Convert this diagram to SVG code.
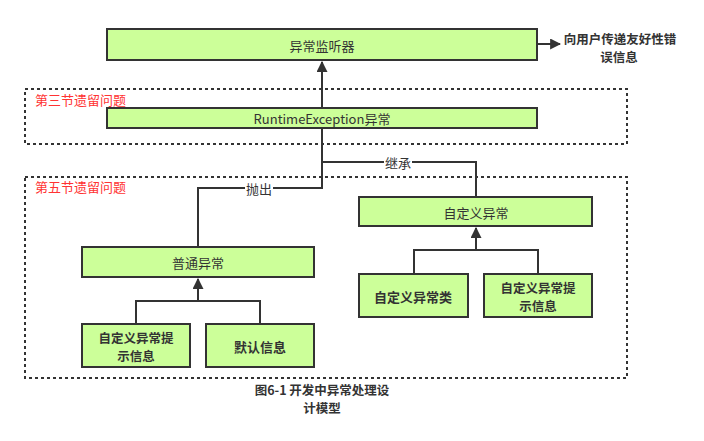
<svg xmlns="http://www.w3.org/2000/svg" width="704" height="441" viewBox="0 0 704 441">
<style>
text{font-family:"Noto Sans CJK SC","Microsoft YaHei",sans-serif;font-size:13px;fill:#333;}
.box{fill:#CCFF99;stroke:#333;stroke-width:2;}
.c{text-anchor:middle;dominant-baseline:central;}
.b{font-weight:bold;}
.m{font-size:12.5px;}
.red{fill:#FF3333;}
.grp{fill:none;stroke:#333;stroke-width:2;stroke-dasharray:3 3;}
.ln{fill:none;stroke:#333;stroke-width:2;}
.lbl{fill:#fff;}
</style>
<defs>
<marker id="ah" viewBox="0 0 10 10" refX="9" refY="5" markerWidth="5.5" markerHeight="5.5" orient="auto" markerUnits="strokeWidth">
<path d="M0,0 L10,5 L0,10 Z" fill="#333"/>
</marker>
</defs>
<g id="groups">
<rect class="grp" x="25" y="89" width="602" height="55"/>
<text class="red" x="35" y="99" dominant-baseline="central">第三节遗留问题</text>
<rect class="grp" x="25" y="177" width="602" height="201"/>
<text class="red" x="35" y="186" dominant-baseline="central">第五节遗留问题</text>
</g>
<g id="connectors">
<path class="ln" d="M322,107 V62" marker-end="url(#ah)"/>
<path class="ln" d="M537,44 H560" marker-end="url(#ah)"/>
<path class="ln" d="M198,247 V188 H322 V128"/>
<path class="ln" d="M476,197 V162 H322"/>
<rect class="lbl" x="245" y="181" width="28" height="14"/>
<text class="c" x="259" y="188">抛出</text>
<rect class="lbl" x="384" y="155" width="28" height="14"/>
<text class="c" x="398" y="162">继承</text>
<path class="ln" d="M136,324 V301 H260 V324 M198,301 V279" marker-end="url(#ah)"/>
<path class="ln" d="M414,274 V250 H538 V274 M476,250 V228" marker-end="url(#ah)"/>
</g>
<g id="n-listener">
<rect class="box" x="107" y="29" width="430" height="31"/>
<text class="c" x="322" y="45">异常监听器</text>
</g>
<g id="n-friendly">
<text class="c b m" x="620" y="38">向用户传递友好性错</text>
<text class="c b m" x="619" y="56">误信息</text>
</g>
<g id="n-runtime">
<rect class="box" x="107" y="108" width="430" height="20"/>
<text class="c" x="322" y="118">RuntimeException异常</text>
</g>
<g id="n-common">
<rect class="box" x="82" y="247" width="232" height="30"/>
<text class="c" x="198" y="262">普通异常</text>
</g>
<g id="n-custom">
<rect class="box" x="359" y="197" width="233" height="29"/>
<text class="c" x="476" y="212">自定义异常</text>
</g>
<g id="n-custom-class">
<rect class="box" x="359" y="274" width="109" height="43"/>
<text class="c b" x="413" y="296">自定义异常类</text>
</g>
<g id="n-custom-tip2">
<rect class="box" x="484" y="274" width="108" height="43"/>
<text class="c b m" x="538" y="287">自定义异常提</text>
<text class="c b m" x="538" y="305">示信息</text>
</g>
<g id="n-custom-tip1">
<rect class="box" x="82" y="324" width="108" height="43"/>
<text class="c b m" x="136" y="337">自定义异常提</text>
<text class="c b m" x="136" y="355">示信息</text>
</g>
<g id="n-default">
<rect class="box" x="206" y="324" width="108" height="43"/>
<text class="c b" x="260" y="346">默认信息</text>
</g>
<g id="caption">
<text class="c b m" x="322" y="389">图6-1 开发中异常处理设</text>
<text class="c b m" x="322" y="407">计模型</text>
</g>
</svg>
